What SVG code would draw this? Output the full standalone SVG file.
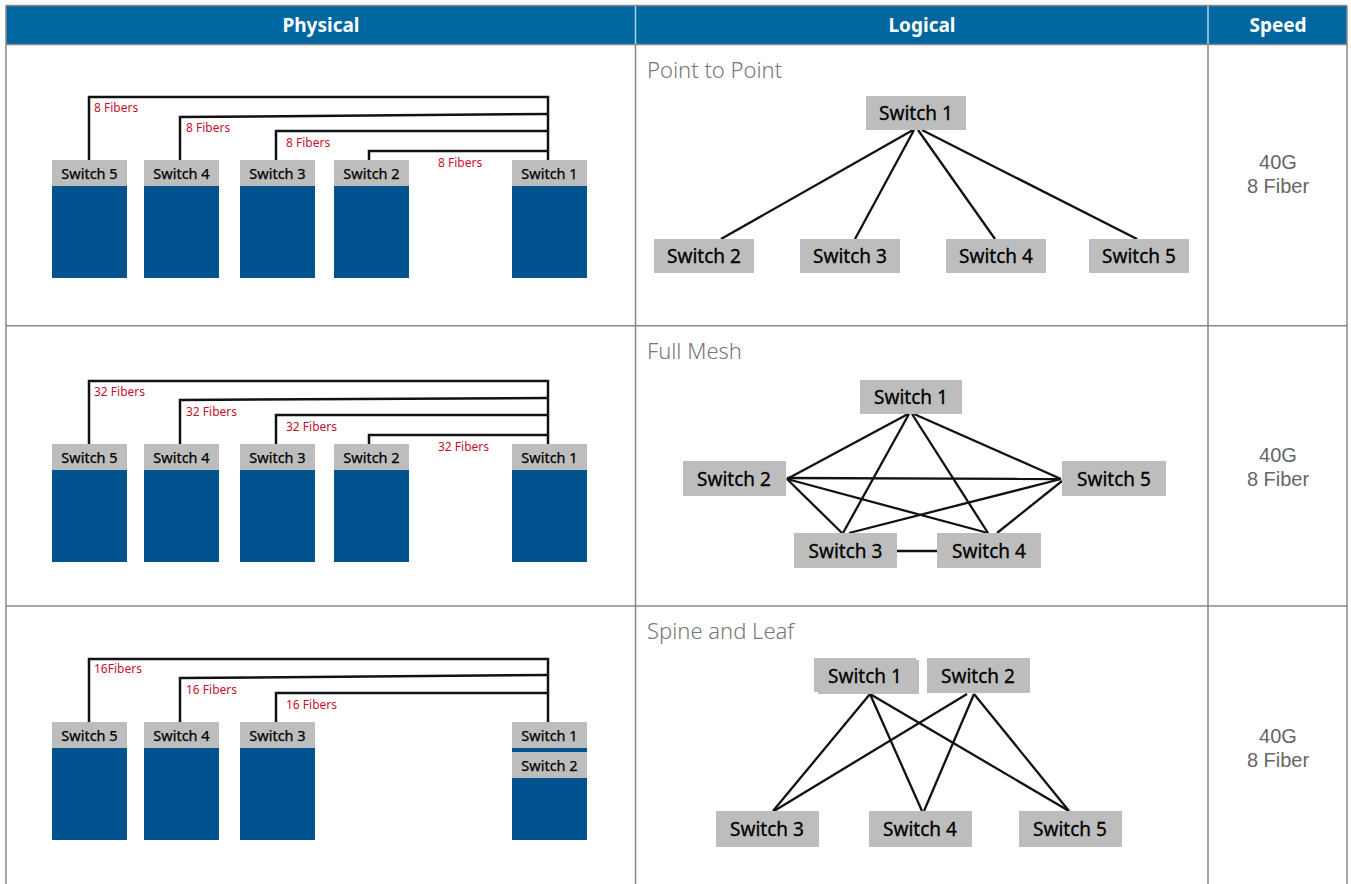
<svg xmlns="http://www.w3.org/2000/svg" width="1351" height="884" viewBox="0 0 1351 884">
<style>
.border{stroke:#888;stroke-width:1.5;fill:none}
.hdr{fill:#0067a0}
.htxt{font-family:"Noto Sans","Liberation Sans",sans-serif;font-size:19px;font-weight:bold;fill:#fff;text-anchor:middle}
.blue{fill:#00538f}
.gray{fill:#bdbdbd}
.ps{font-family:"Noto Sans","Liberation Sans",sans-serif;font-size:14.5px;fill:#000;stroke:#000;stroke-width:0.25;text-anchor:middle}
.ls{font-family:"Noto Sans","Liberation Sans",sans-serif;font-size:19px;fill:#000;stroke:#000;stroke-width:0.3;text-anchor:middle}
.fib{font-family:"Noto Sans","Liberation Sans",sans-serif;font-size:12px;fill:#c8102e}
.title{font-family:"Noto Sans","Liberation Sans",sans-serif;font-size:22px;font-weight:300;fill:#777}
.spd{font-family:"Liberation Sans",Arial,sans-serif;font-size:20px;fill:#666;text-anchor:middle}
.pc{stroke:#111;stroke-width:2.5;fill:none}
.lc{stroke:#111;stroke-width:2.3;fill:none}
</style>
<rect width="1351" height="884" fill="#fff"/>
<g id="table">
<rect class="hdr" x="6" y="6" width="1341" height="38"/>
<line class="border" x1="6" y1="5.5" x2="1347" y2="5.5"/>
<line class="border" x1="6" y1="44.5" x2="1347" y2="44.5"/>
<line class="border" x1="6" y1="5.5" x2="6" y2="884"/>
<line class="border" x1="1347" y1="5.5" x2="1347" y2="884"/>
<line x1="635.5" y1="6" x2="635.5" y2="44" stroke="#a8d4f0" stroke-width="1.5"/>
<line x1="1208" y1="6" x2="1208" y2="44" stroke="#a8d4f0" stroke-width="1.5"/>
<line class="border" x1="635.5" y1="44.5" x2="635.5" y2="884"/>
<line class="border" x1="1208" y1="44.5" x2="1208" y2="884"/>
<line class="border" x1="6" y1="325.7" x2="1347" y2="325.7"/>
<line class="border" x1="6" y1="606" x2="1347" y2="606"/>
<text class="htxt" x="321" y="32">Physical</text>
<text class="htxt" x="922" y="32">Logical</text>
<text class="htxt" x="1278" y="32">Speed</text>
<text class="spd" x="1278" y="169">40G</text>
<text class="spd" x="1278" y="193">8 Fiber</text>
<text class="spd" x="1278" y="462">40G</text>
<text class="spd" x="1278" y="486">8 Fiber</text>
<text class="spd" x="1278" y="743">40G</text>
<text class="spd" x="1278" y="767">8 Fiber</text>
<text class="title" x="647" y="78">Point to Point</text>
<text class="title" x="647" y="359">Full Mesh</text>
<text class="title" x="647" y="639">Spine and Leaf</text>
</g>
<g id="connectors">
<path class="pc" d="M89,160 V97 H548 V160"/>
<path class="pc" d="M180,160 V117 L548,114"/>
<path class="pc" d="M276,160 V131 H548"/>
<path class="pc" d="M369,160 V151 H548"/>
<path class="pc" d="M89,444 V381 H548 V444"/>
<path class="pc" d="M180,444 V400 L548,398"/>
<path class="pc" d="M276,444 V415 H548"/>
<path class="pc" d="M369,444 V435 H548"/>
<path class="pc" d="M89,722 V659 H548 V722"/>
<path class="pc" d="M180,722 V678 L548,675"/>
<path class="pc" d="M276,722 V693 H548"/>
<line class="lc" x1="913" y1="130" x2="721" y2="239"/>
<line class="lc" x1="914" y1="130" x2="855" y2="239"/>
<line class="lc" x1="918" y1="130" x2="995" y2="239"/>
<line class="lc" x1="922" y1="130" x2="1137" y2="239"/>
<line class="lc" x1="908" y1="414" x2="787" y2="479"/>
<line class="lc" x1="909" y1="414" x2="843" y2="533"/>
<line class="lc" x1="912" y1="414" x2="988" y2="533"/>
<line class="lc" x1="914" y1="414" x2="1061" y2="479"/>
<line class="lc" x1="787" y1="478" x2="1061" y2="479"/>
<line class="lc" x1="787" y1="479" x2="842" y2="533"/>
<line class="lc" x1="787" y1="479" x2="988" y2="533"/>
<line class="lc" x1="1061" y1="479" x2="849" y2="533"/>
<line class="lc" x1="1062" y1="481" x2="997" y2="533"/>
<line class="lc" x1="897" y1="551" x2="937" y2="551"/>
<line class="lc" x1="870" y1="694" x2="773" y2="811"/>
<line class="lc" x1="870" y1="694" x2="922" y2="811"/>
<line class="lc" x1="870" y1="694" x2="1069" y2="811"/>
<line class="lc" x1="967" y1="694" x2="774" y2="811"/>
<line class="lc" x1="974" y1="694" x2="924" y2="811"/>
<line class="lc" x1="974" y1="694" x2="1069" y2="811"/>
<text class="fib" x="94" y="111.5">8 Fibers</text>
<text class="fib" x="186" y="132">8 Fibers</text>
<text class="fib" x="286" y="147">8 Fibers</text>
<text class="fib" x="438" y="167">8 Fibers</text>
<text class="fib" x="94" y="395.5">32 Fibers</text>
<text class="fib" x="186" y="416">32 Fibers</text>
<text class="fib" x="286" y="431">32 Fibers</text>
<text class="fib" x="438" y="451">32 Fibers</text>
<text class="fib" x="94" y="673">16Fibers</text>
<text class="fib" x="186" y="694">16 Fibers</text>
<text class="fib" x="286" y="709">16 Fibers</text>
</g>
<g id="p1-switch5"><rect class="blue" x="52" y="160" width="75" height="118"/><rect class="gray" x="52" y="160" width="75" height="26"/><text class="ps" x="89.5" y="178.5">Switch 5</text></g>
<g id="p1-switch4"><rect class="blue" x="144" y="160" width="75" height="118"/><rect class="gray" x="144" y="160" width="75" height="26"/><text class="ps" x="181.5" y="178.5">Switch 4</text></g>
<g id="p1-switch3"><rect class="blue" x="240" y="160" width="75" height="118"/><rect class="gray" x="240" y="160" width="75" height="26"/><text class="ps" x="277.5" y="178.5">Switch 3</text></g>
<g id="p1-switch2"><rect class="blue" x="334" y="160" width="75" height="118"/><rect class="gray" x="334" y="160" width="75" height="26"/><text class="ps" x="371.5" y="178.5">Switch 2</text></g>
<g id="p1-switch1"><rect class="blue" x="512" y="160" width="75" height="118"/><rect class="gray" x="512" y="160" width="75" height="26"/><text class="ps" x="549.5" y="178.5">Switch 1</text></g>
<g id="p2-switch5"><rect class="blue" x="52" y="444" width="75" height="118"/><rect class="gray" x="52" y="444" width="75" height="26"/><text class="ps" x="89.5" y="462.5">Switch 5</text></g>
<g id="p2-switch4"><rect class="blue" x="144" y="444" width="75" height="118"/><rect class="gray" x="144" y="444" width="75" height="26"/><text class="ps" x="181.5" y="462.5">Switch 4</text></g>
<g id="p2-switch3"><rect class="blue" x="240" y="444" width="75" height="118"/><rect class="gray" x="240" y="444" width="75" height="26"/><text class="ps" x="277.5" y="462.5">Switch 3</text></g>
<g id="p2-switch2"><rect class="blue" x="334" y="444" width="75" height="118"/><rect class="gray" x="334" y="444" width="75" height="26"/><text class="ps" x="371.5" y="462.5">Switch 2</text></g>
<g id="p2-switch1"><rect class="blue" x="512" y="444" width="75" height="118"/><rect class="gray" x="512" y="444" width="75" height="26"/><text class="ps" x="549.5" y="462.5">Switch 1</text></g>
<g id="p3-switch5"><rect class="blue" x="52" y="722" width="75" height="118"/><rect class="gray" x="52" y="722" width="75" height="26"/><text class="ps" x="89.5" y="740.5">Switch 5</text></g>
<g id="p3-switch4"><rect class="blue" x="144" y="722" width="75" height="118"/><rect class="gray" x="144" y="722" width="75" height="26"/><text class="ps" x="181.5" y="740.5">Switch 4</text></g>
<g id="p3-switch3"><rect class="blue" x="240" y="722" width="75" height="118"/><rect class="gray" x="240" y="722" width="75" height="26"/><text class="ps" x="277.5" y="740.5">Switch 3</text></g>
<g id="p3-switch12"><rect class="blue" x="512" y="722" width="75" height="118"/><rect class="gray" x="512" y="722" width="75" height="26"/><text class="ps" x="549.5" y="740.5">Switch 1</text><rect class="gray" x="512" y="752" width="75" height="26"/><text class="ps" x="549.5" y="770.5">Switch 2</text></g>
<g id="l1-switch1"><rect class="gray" x="866" y="96" width="100" height="34"/><text class="ls" x="916" y="120">Switch 1</text></g>
<g id="l1-switch2"><rect class="gray" x="654" y="239" width="100" height="34"/><text class="ls" x="704" y="263">Switch 2</text></g>
<g id="l1-switch3"><rect class="gray" x="800" y="239" width="100" height="34"/><text class="ls" x="850" y="263">Switch 3</text></g>
<g id="l1-switch4"><rect class="gray" x="946" y="239" width="100" height="34"/><text class="ls" x="996" y="263">Switch 4</text></g>
<g id="l1-switch5"><rect class="gray" x="1089" y="239" width="100" height="34"/><text class="ls" x="1139" y="263">Switch 5</text></g>
<g id="l2-switch1"><rect class="gray" x="860" y="380" width="102" height="34"/><text class="ls" x="911" y="404">Switch 1</text></g>
<g id="l2-switch2"><rect class="gray" x="683" y="461" width="103" height="35"/><text class="ls" x="734" y="485.5">Switch 2</text></g>
<g id="l2-switch5"><rect class="gray" x="1062" y="461" width="104" height="35"/><text class="ls" x="1114" y="485.5">Switch 5</text></g>
<g id="l2-switch3"><rect class="gray" x="794" y="533" width="103" height="35"/><text class="ls" x="845.5" y="557.5">Switch 3</text></g>
<g id="l2-switch4"><rect class="gray" x="937" y="533" width="104" height="35"/><text class="ls" x="989" y="557.5">Switch 4</text></g>
<g id="l3-switch1"><rect class="gray" x="818" y="660" width="101" height="34"/><rect class="gray" x="814" y="658" width="102" height="34"/><text class="ls" x="865" y="683">Switch 1</text></g>
<g id="l3-switch2"><rect class="gray" x="927" y="658" width="103" height="35"/><text class="ls" x="978" y="683">Switch 2</text></g>
<g id="l3-switch3"><rect class="gray" x="716" y="811" width="103" height="36"/><text class="ls" x="767" y="836">Switch 3</text></g>
<g id="l3-switch4"><rect class="gray" x="869" y="811" width="103" height="36"/><text class="ls" x="920" y="836">Switch 4</text></g>
<g id="l3-switch5"><rect class="gray" x="1019" y="811" width="103" height="36"/><text class="ls" x="1070" y="836">Switch 5</text></g>
</svg>
